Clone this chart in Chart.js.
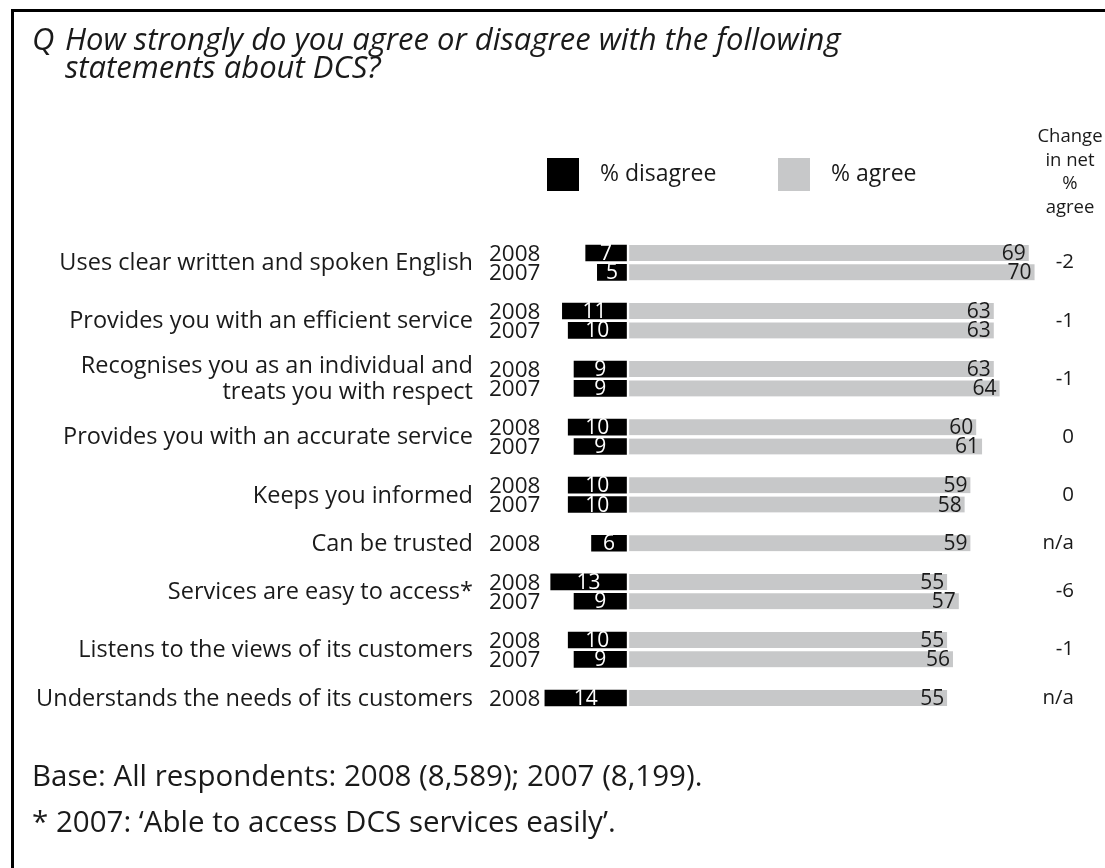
<!DOCTYPE html>
<html>
<head>
<meta charset="utf-8">
<script src="https://cdn.jsdelivr.net/npm/chart.js@4/dist/chart.umd.min.js"></script>
<style>
html,body{margin:0;padding:0;background:#fff;width:1105px;height:868px;overflow:hidden;font-family:"Open Sans",sans-serif;color:#1a1a1a}
#frame{position:absolute;left:11px;top:9px;width:1200px;height:1000px;border-left:3px solid #000;border-top:3px solid #000;box-sizing:border-box}
#chart{position:absolute;left:0;top:0}
.title{position:absolute;left:32px;top:24px;font-style:italic;font-size:31px;line-height:28px;display:flex;white-space:nowrap}
.title .q{width:33px;flex:none}
.foot{position:absolute;left:32px;font-size:29.5px;line-height:30px;white-space:nowrap}
</style>
</head>
<body>
<div id="frame"></div>
<canvas id="chart" width="1105" height="868"></canvas>
<div class="title"><span class="q">Q</span><span>How strongly do you agree or disagree with the following<br>statements about DCS?</span></div>
<div class="foot" id="foot1" style="top:760px">Base: All respondents: 2008 (8,589); 2007 (8,199).</div>
<div class="foot" id="foot2" style="top:806px">* 2007: ‘Able to access DCS services easily’.</div>
<script>
// ---- data ----
const statements = [
  ["Uses clear written and spoken English"],
  ["Provides you with an efficient service"],
  ["Recognises you as an individual and", "treats you with respect"],
  ["Provides you with an accurate service"],
  ["Keeps you informed"],
  ["Can be trusted"],
  ["Services are easy to access*"],
  ["Listens to the views of its customers"],
  ["Understands the needs of its customers"]
];
const years = ["2008", "2007"];
const disagree2008 = [7, 11, 9, 10, 10, 6, 13, 10, 14];
const disagree2007 = [5, 10, 9, 9, 10, null, 9, 9, null];
const agree2008 = [69, 63, 63, 60, 59, 59, 55, 55, 55];
const agree2007 = [70, 63, 64, 61, 58, null, 57, 56, null];
const netChange = ["-2", "-1", "-1", "0", "0", "n/a", "-6", "-1", "n/a"];
const legendLabels = ["% disagree", "% agree"];
const changeHeader = ["Change", "in net", "%", "agree"];

// ---- build one slot per bar row, plus a blank slot between statements ----
const slots = [];
statements.forEach((s, i) => {
  slots.push({stmt: i, year: years[0], dis: disagree2008[i], agr: agree2008[i]});
  if (agree2007[i] != null) slots.push({stmt: i, year: years[1], dis: disagree2007[i], agr: agree2007[i]});
  if (i < statements.length - 1) slots.push({stmt: i, year: null, dis: null, agr: null});
});
const slotLabels = slots.map((s, k) => 'r' + k);

const BLACK = '#000000';
const GREY = '#c7c8c9';
const TEXT = '#1a1a1a';
const FONT = '"Open Sans", sans-serif';

const labelPlugin = {
  id: 'labels',
  afterDatasetsDraw(chart) {
    const ctx = chart.ctx;
    const yScale = chart.scales.y;
    ctx.save();
    ctx.textBaseline = 'middle';
    // values on bars
    const mDis = chart.getDatasetMeta(0), mAgr = chart.getDatasetMeta(1);
    ctx.font = '21px ' + FONT;
    mDis.data.forEach((el, k) => {
      const v = chart.data.datasets[0].data[k];
      if (v == null) return;
      ctx.fillStyle = '#ffffff';
      ctx.textAlign = 'center';
      ctx.fillText(String(Math.abs(v)), (el.x + el.base) / 2, el.y + 1);
    });
    mAgr.data.forEach((el, k) => {
      const v = chart.data.datasets[1].data[k];
      if (v == null) return;
      ctx.fillStyle = TEXT;
      ctx.textAlign = 'right';
      ctx.fillText(String(v), el.x - 3, el.y + 1);
    });
    // year labels
    ctx.fillStyle = TEXT;
    ctx.textAlign = 'left';
    ctx.font = '22.5px ' + FONT;
    slots.forEach((s, k) => {
      if (!s.year) return;
      ctx.fillText(s.year, 489, yScale.getPixelForValue(k) + 1.5);
    });
    // statement labels and net change
    statements.forEach((lines, i) => {
      const ks = slots.map((s, k) => (s.stmt === i && s.year) ? k : -1).filter(k => k >= 0);
      const mid = (yScale.getPixelForValue(ks[0]) + yScale.getPixelForValue(ks[ks.length - 1])) / 2;
      ctx.textAlign = 'right';
      ctx.font = '23.5px ' + FONT;
      lines.forEach((t, j) => {
        const off = (j - (lines.length - 1) / 2) * 26;
        ctx.fillText(t, 473, mid + off + 1);
      });
      ctx.font = '20.5px ' + FONT;
      ctx.fillText(netChange[i], 1074, mid);
    });
    // change header
    ctx.textAlign = 'center';
    ctx.font = '18.5px ' + FONT;
    changeHeader.forEach((t, j) => ctx.fillText(t, 1070, 137 + j * 23.5));
    // legend
    ctx.font = '23px ' + FONT;
    const ds = chart.data.datasets;
    const legX = [547, 778];
    ds.forEach((d, i) => {
      ctx.fillStyle = d.backgroundColor;
      ctx.fillRect(legX[i], 158, 32, 33);
      ctx.fillStyle = TEXT;
      ctx.textAlign = 'left';
      ctx.fillText(d.label, legX[i] + 53, 174);
    });
    ctx.restore();
  }
};

new Chart(document.getElementById('chart'), {
  type: 'bar',
  data: {
    labels: slotLabels,
    datasets: [
      {label: legendLabels[0], data: slots.map(s => s.dis == null ? null : -s.dis),
       backgroundColor: BLACK, borderWidth: 0},
      {label: legendLabels[1], data: slots.map(s => s.agr),
       backgroundColor: GREY, borderColor: '#ffffff', borderWidth: {left: 3, right: 0, top: 0, bottom: 0},
       borderSkipped: false}
    ]
  },
  options: {
    indexAxis: 'y',
    responsive: false,
    animation: false,
    devicePixelRatio: 1,
    barThickness: 16,
    layout: {padding: {left: 539.05, right: 12.1, top: 243.3, bottom: 160.3}},
    plugins: {legend: {display: false}, tooltip: {enabled: false}},
    scales: {
      x: {type: 'linear', min: -15, max: 80, stacked: true, display: false},
      y: {type: 'category', stacked: true, display: false}
    }
  },
  plugins: [labelPlugin]
});
</script>
</body>
</html>
